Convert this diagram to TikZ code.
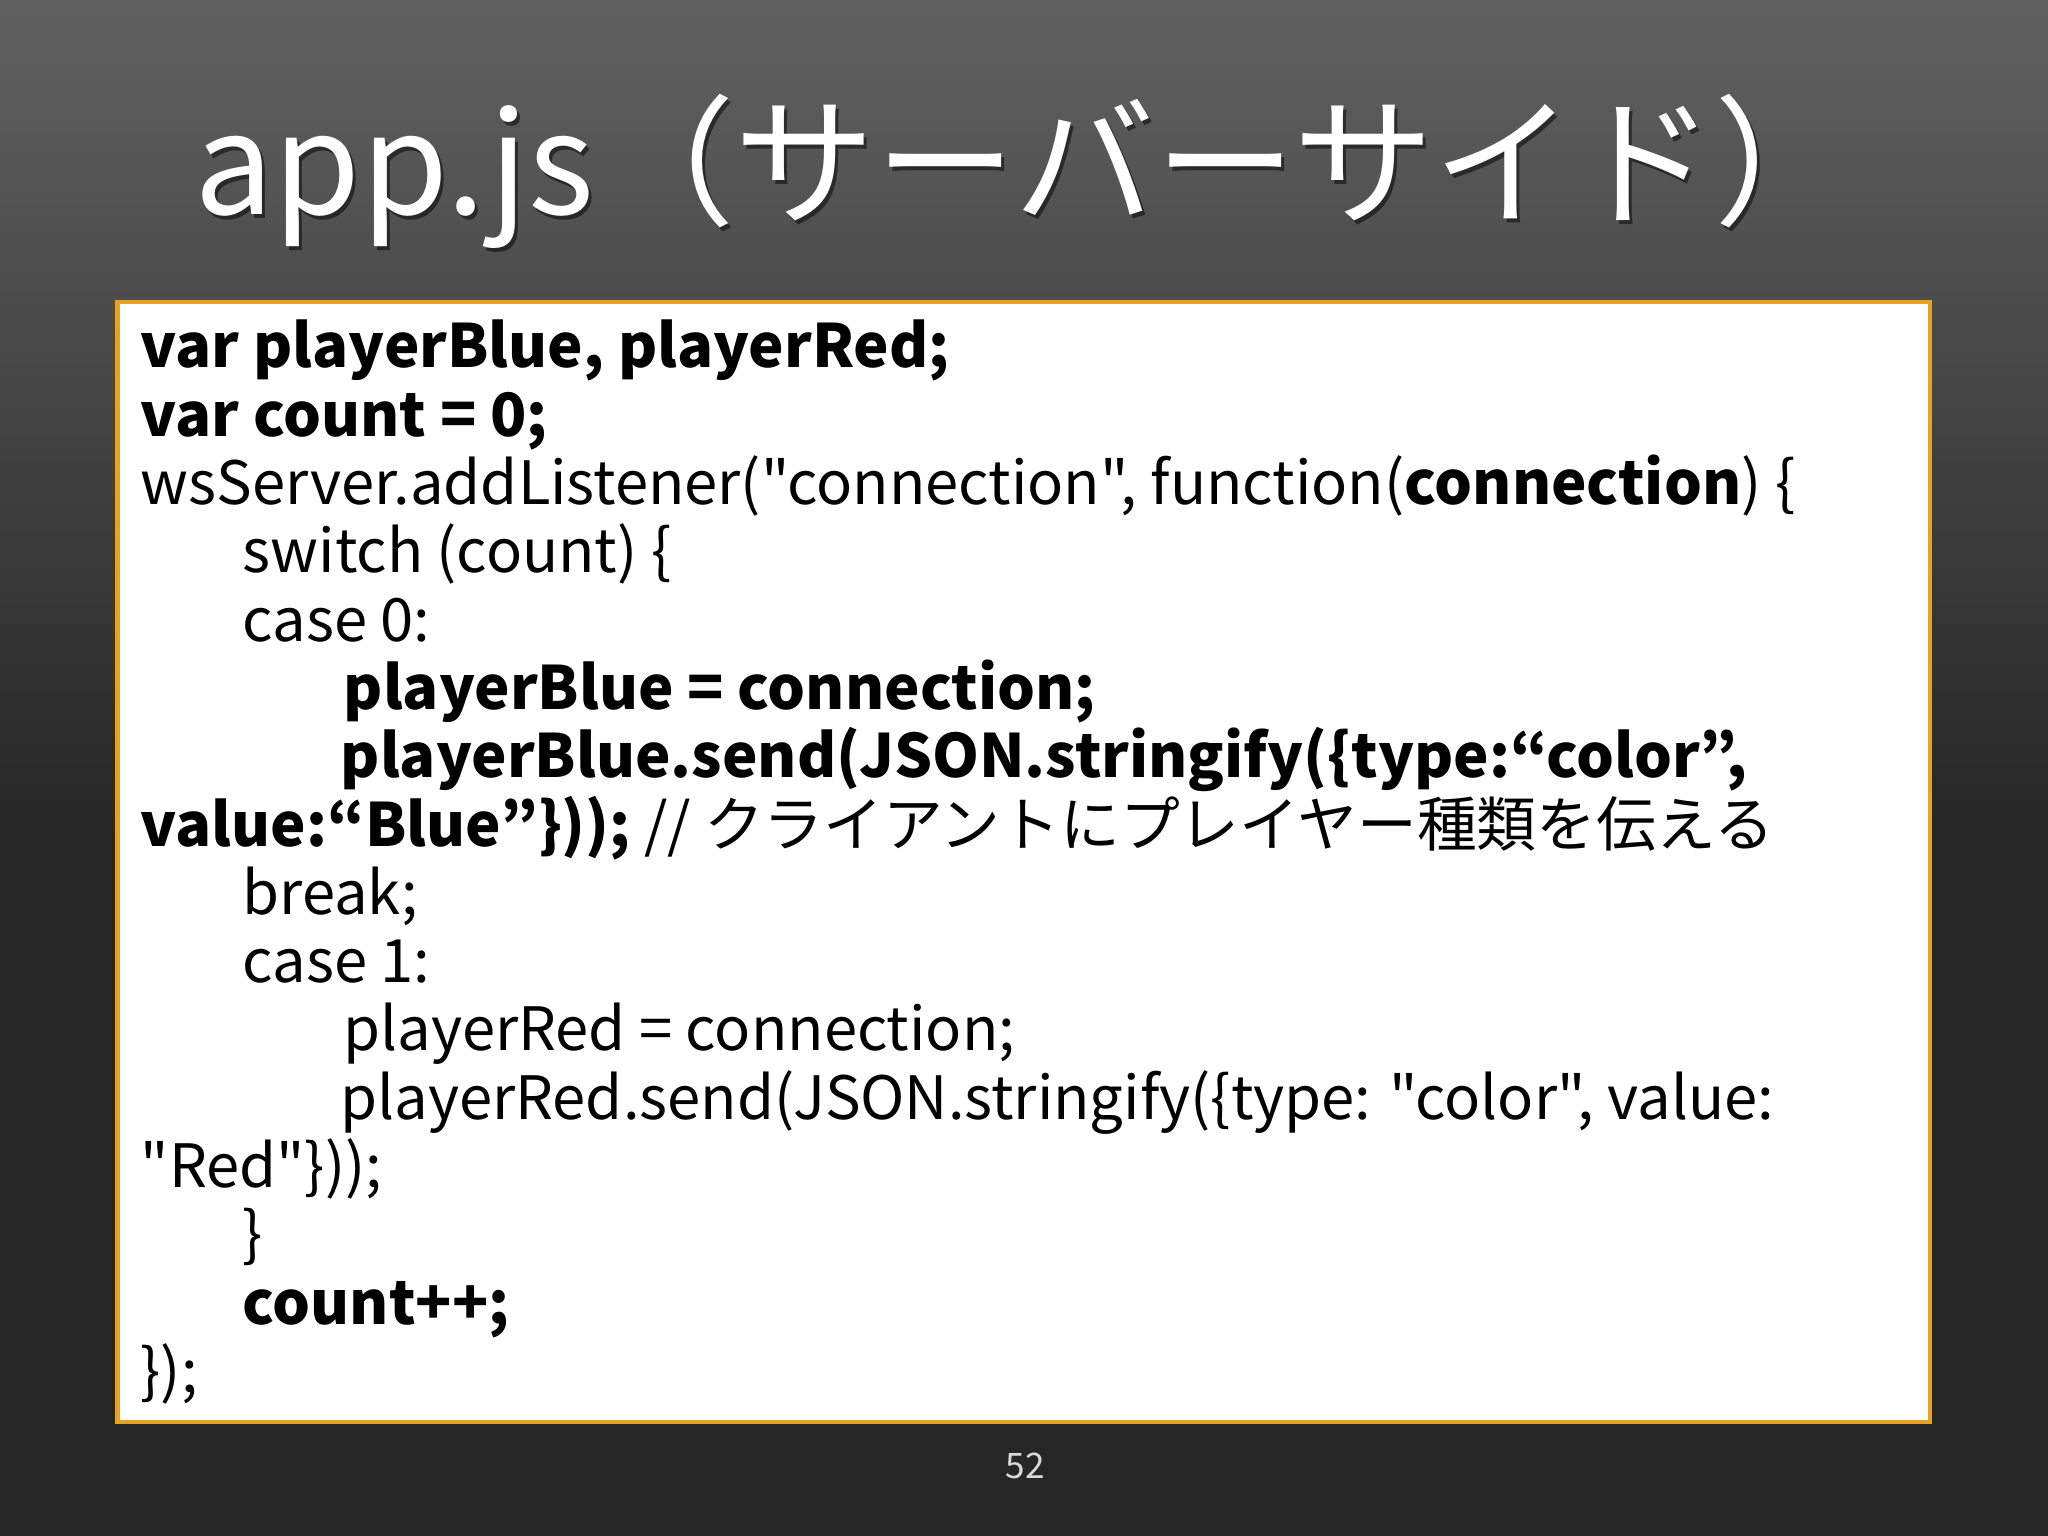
\documentclass[tikz,border=0pt]{standalone}
\usepackage{fontspec}
\setmainfont{Noto Sans CJK JP}[Ligatures=TeXOff]
\begin{document}
\begin{tikzpicture}
\tikzset{code/.style={anchor=base west,inner sep=0pt,font=\fontsize{17}{20}\selectfont,text=black}}
\useasboundingbox (0,0) rectangle (20.48,15.36);
\fill[black!85] (0,0) rectangle (20.48,15.36);
\shade[top color=black!62,bottom color=black!85] (0,7) rectangle (20.48,15.36);
\node[anchor=base,text=black,opacity=0.5,font=\fontsize{40}{44}\selectfont] at (10.28,13.17) {app.js（サーバーサイド）};
\node[anchor=base,text=white,font=\fontsize{40}{44}\selectfont] (title) at (10.25,13.21) {app.js（サーバーサイド）};
\draw[fill=white,draw={rgb,255:red,230;green,163;blue,35},line width=1.2pt] (1.175,1.14) rectangle (19.30,12.34);
\node[code] (l1) at (1.40,11.68) {\textbf{var playerBlue, playerRed;}};
\node[code] (l2) at (1.40,10.997) {\textbf{var count = 0;}};
\node[code] (l3) at (1.40,10.314) {wsServer.addListener("connection", function(\textbf{connection}) \{};
\node[code] (l4) at (2.42,9.631) {switch (count) \{};
\node[code] (l5) at (2.42,8.948) {case 0:};
\node[code] (l6) at (3.43,8.265) {\textbf{playerBlue = connection;}};
\node[code] (l7) at (3.40,7.582) {\textbf{playerBlue.send(JSON.stringify(\{type:“color”,}};
\node[code] (l8) at (1.40,6.899) {\textbf{value:“Blue”\}));} // クライアントにプレイヤー種類を伝える};
\node[code] (l9) at (2.42,6.216) {break;};
\node[code] (l10) at (2.42,5.533) {case 1:};
\node[code] (l11) at (3.43,4.850) {playerRed = connection;};
\node[code] (l12) at (3.40,4.167) {playerRed.send(JSON.stringify(\{type: "color", value:};
\node[code] (l13) at (1.40,3.484) {"Red"\}));};
\node[code] (l14) at (2.42,2.801) {\}};
\node[code] (l15) at (2.42,2.118) {\textbf{count++;}};
\node[code] (l16) at (1.40,1.435) {\});};
\node[text=black!15,font=\fontsize{10}{12}\selectfont] (pg) at (10.25,0.70) {52};
\end{tikzpicture}
\end{document}
